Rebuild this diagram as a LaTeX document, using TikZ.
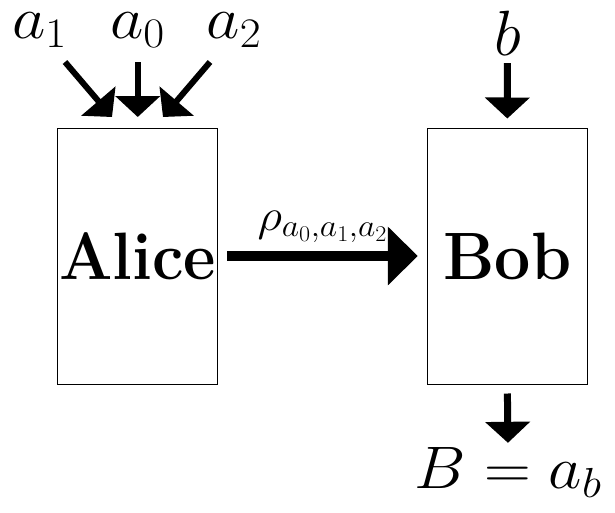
\RequirePackage{fix-cm}
\documentclass[tikz,border=0pt]{standalone}
\usetikzlibrary{arrows.meta}
\begin{document}
\begin{tikzpicture}[x=1pt,y=-1pt,
  box/.style={draw, line width=1pt, minimum width=160pt, minimum height=256pt, inner sep=0pt,
    font=\fontsize{67}{70}\selectfont\bfseries},
  lbl/.style={inner sep=0pt, anchor=base, font=\fontsize{60}{64}\selectfont},
  smallarrow/.style={line width=6pt, -{Triangle[length=21pt,width=44pt]}},
  bigarrow/.style={line width=10pt, -{Triangle[length=30pt,width=57pt]}}]
\useasboundingbox (0,0) rectangle (615,512);
\node[box] (alice) at (137.75,256) {\scalebox{0.94}[1]{Alice}};
\node[box] (bob) at (507.3,256) {\scalebox{0.96}[1]{Bob}};
\node[lbl] (a1) at (39.5,38) {\scalebox{1.08}[1]{$a_1$}};
\node[lbl] (a0) at (137.5,38) {\scalebox{1.08}[1]{$a_0$}};
\node[lbl] (a2) at (234,38) {\scalebox{1.08}[1]{$a_2$}};
\node[lbl, font=\fontsize{64}{70}\selectfont] (b) at (507.5,55) {$b$};
\node[lbl, font=\fontsize{60}{66}\selectfont] (res) at (508,488) {\scalebox{1.08}[1]{$B=a_b$}};
\coordinate (s1) at (65,62);
\coordinate (t1) at (112,117);
\coordinate (s2) at (210,62);
\coordinate (t2) at (163,117);
\draw[smallarrow] (s1) -- (t1);
\draw[smallarrow] (s2) -- (t2);
\draw[smallarrow] (alice.north |- s1) -- (alice.north |- t1);
\draw[smallarrow, line width=7pt, shorten <=8pt, shorten >=9pt] (b) -- (bob.north);
\draw[smallarrow, line width=7pt, shorten <=9pt, shorten >=4pt] (bob.south) -- (res.north);
\draw[bigarrow, shorten <=9pt, shorten >=9pt] (alice) -- node[midway, inner sep=0pt, anchor=base, yshift=26pt, font=\fontsize{45}{50}\selectfont] (rho) {\scalebox{1.07}[1]{$\rho_{a_0,a_1,a_2}$}} (bob);
\end{tikzpicture}
\end{document}
